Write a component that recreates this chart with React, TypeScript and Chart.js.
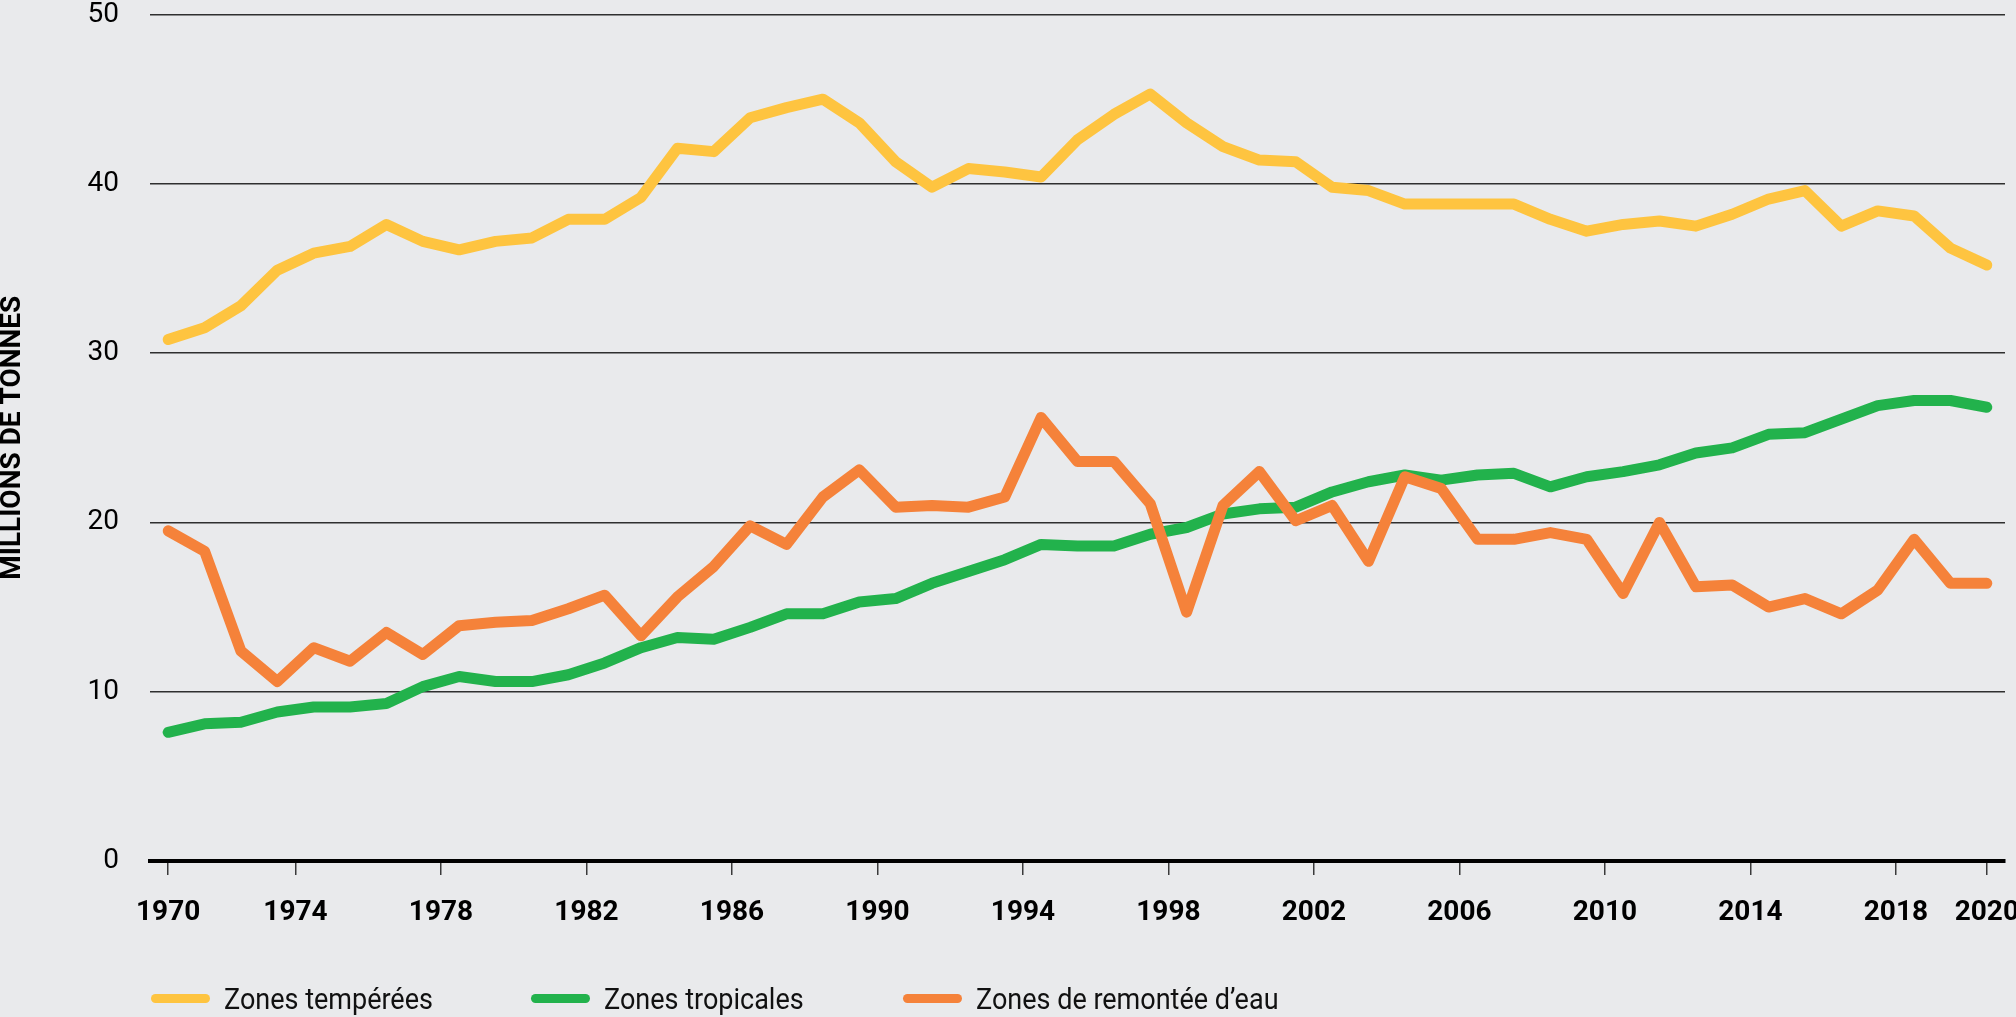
import React, { useEffect, useRef } from 'react';
import { Chart, registerables } from 'chart.js';

Chart.register(...registerables);

// ---- Data ----
const years = [
  1970, 1971, 1972, 1973, 1974, 1975, 1976, 1977, 1978, 1979,
  1980, 1981, 1982, 1983, 1984, 1985, 1986, 1987, 1988, 1989,
  1990, 1991, 1992, 1993, 1994, 1995, 1996, 1997, 1998, 1999,
  2000, 2001, 2002, 2003, 2004, 2005, 2006, 2007, 2008, 2009,
  2010, 2011, 2012, 2013, 2014, 2015, 2016, 2017, 2018, 2019,
  2020,
];

const temperate = [
  30.8, 31.5, 32.8, 34.9, 35.9, 36.3, 37.6, 36.6, 36.1, 36.6,
  36.8, 37.9, 37.9, 39.2, 42.1, 41.9, 43.9, 44.5, 45.0, 43.6,
  41.3, 39.8, 40.9, 40.7, 40.4, 42.6, 44.1, 45.3, 43.6, 42.2,
  41.4, 41.3, 39.8, 39.6, 38.8, 38.8, 38.8, 38.8, 37.9, 37.2,
  37.6, 37.8, 37.5, 38.2, 39.1, 39.6, 37.5, 38.4, 38.1, 36.2,
  35.2,
];

const tropical = [
  7.6, 8.1, 8.2, 8.8, 9.1, 9.1, 9.3, 10.3, 10.9, 10.6,
  10.6, 11.0, 11.7, 12.6, 13.2, 13.1, 13.8, 14.6, 14.6, 15.3,
  15.5, 16.4, 17.1, 17.8, 18.7, 18.6, 18.6, 19.3, 19.7, 20.5,
  20.8, 20.9, 21.8, 22.4, 22.8, 22.5, 22.8, 22.9, 22.1, 22.7,
  23.0, 23.4, 24.1, 24.4, 25.2, 25.3, 26.1, 26.9, 27.2, 27.2,
  26.8,
];

const upwelling = [
  19.5, 18.3, 12.4, 10.6, 12.6, 11.8, 13.5, 12.2, 13.9, 14.1,
  14.2, 14.9, 15.7, 13.3, 15.6, 17.4, 19.8, 18.7, 21.5, 23.1,
  20.9, 21.0, 20.9, 21.5, 26.2, 23.6, 23.6, 21.1, 14.7, 21.0,
  23.0, 20.1, 21.0, 17.7, 22.7, 22.0, 19.0, 19.0, 19.4, 19.0,
  15.8, 20.0, 16.2, 16.3, 15.0, 15.5, 14.6, 16.0, 19.0, 16.4,
  16.4,
];

const xTickLabels = [1970, 1974, 1978, 1982, 1986, 1990, 1994, 1998, 2002, 2006, 2010, 2014, 2018, 2020];
const yTickValues = [0, 10, 20, 30, 40, 50];

const seriesNames = ['Zones tempérées', 'Zones tropicales', 'Zones de remontée d’eau'];
const seriesColors = ['#FEC440', '#22B24C', '#F5823A'];
const yAxisTitle = 'MILLIONS DE TONNES';

// ---- Style ----
const FONT = "Roboto, 'Liberation Sans', sans-serif";
const BG = '#E9EAEC';
const W = 2016;
const H = 1017;

// first and last labels sit on the mid-year data points, the others on the year boundaries
const xTickPositions = xTickLabels.map((y, i) => (i === 0 || i === xTickLabels.length - 1 ? y + 0.5 : y));

export default function App() {
  const canvasRef = useRef<HTMLCanvasElement | null>(null);

  useEffect(() => {
    const canvas = canvasRef.current;
    if (!canvas) return;
    const series = [temperate, tropical, upwelling];
    const chart = new Chart(canvas, {
      type: 'line',
      data: {
        datasets: series.map((vals, si) => ({
          label: seriesNames[si],
          data: years.map((yr, i) => ({ x: yr + 0.5, y: vals[i] })),
          borderColor: seriesColors[si],
          backgroundColor: seriesColors[si],
          borderWidth: 11,
          borderCapStyle: 'round' as const,
          borderJoinStyle: 'round' as const,
          pointRadius: 0,
          pointHoverRadius: 0,
          tension: 0,
          fill: false,
          order: 2 - si,
        })),
      },
      options: {
        responsive: false,
        animation: false,
        devicePixelRatio: 1,
        layout: { padding: { top: 14.5, right: 11, bottom: 0, left: 0 } },
        plugins: {
          legend: { display: false },
          tooltip: { enabled: false },
        },
        scales: {
          x: {
            type: 'linear',
            min: 1970,
            max: 2021,
            afterBuildTicks: (scale: any) => {
              scale.ticks = xTickPositions.map((v) => ({ value: v }));
            },
            afterFit: (scale: any) => {
              scale.height = 156;
              scale.paddingLeft = 0;
              scale.paddingRight = 0;
            },
            grid: {
              display: true,
              drawOnChartArea: false,
              drawTicks: true,
              tickLength: 14,
              color: '#3a3a3a',
              lineWidth: 1.5,
            },
            border: { display: true, color: '#000000', width: 4 },
            ticks: {
              autoSkip: false,
              maxRotation: 0,
              padding: 21,
              color: '#000000',
              font: { family: FONT, size: 28, weight: 'bold' },
              callback: (value: any) => String(Math.floor(Number(value))),
            },
          },
          y: {
            min: 0,
            max: 50,
            afterBuildTicks: (scale: any) => {
              scale.ticks = yTickValues.map((v) => ({ value: v }));
            },
            afterFit: (scale: any) => {
              scale.width = 150;
              scale.paddingTop = 0;
              scale.paddingBottom = 0;
            },
            grid: {
              display: true,
              drawTicks: false,
              color: '#2f2f2f',
              lineWidth: 1.5,
            },
            border: { display: false },
            ticks: {
              padding: 31,
              color: '#000000',
              font: { family: FONT, size: 28, weight: 'normal' },
            },
            title: {
              display: true,
              text: yAxisTitle,
              color: '#000000',
              padding: 0,
              font: { family: FONT, size: 28, weight: 'bold', lineHeight: 0.95 },
            },
          },
        },
      },
    });
    return () => chart.destroy();
  }, []);

  const legendLefts = [151, 531, 903];

  return (
    <div
      style={{
        position: 'absolute',
        left: 0,
        top: 0,
        width: W,
        height: H,
        background: BG,
        overflow: 'hidden',
      }}
    >
      <canvas ref={canvasRef} width={W} height={H} style={{ display: 'block', width: W, height: H }} />
      {seriesNames.map((name, i) => (
        <div key={name}>
          <div
            style={{
              position: 'absolute',
              left: legendLefts[i],
              top: 994,
              width: 59,
              height: 9,
              borderRadius: 4.5,
              background: seriesColors[i],
            }}
          />
          <div
            style={{
              position: 'absolute',
              left: legendLefts[i] + 73,
              top: 984,
              fontFamily: FONT,
              fontSize: 30,
              lineHeight: '30px',
              color: '#111111',
              whiteSpace: 'nowrap',
              transform: 'scaleX(0.9)',
              transformOrigin: 'left center',
            }}
          >
            {name}
          </div>
        </div>
      ))}
    </div>
  );
}
